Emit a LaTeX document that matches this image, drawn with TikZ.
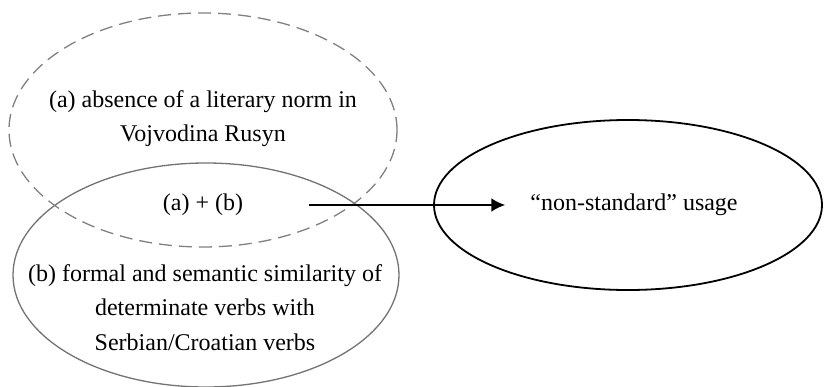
\documentclass[tikz,border=0pt]{standalone}
\usepackage{fontspec}
\setmainfont{Liberation Serif}
\usetikzlibrary{shapes,arrows.meta,positioning}
\tikzset{basic/.style={ellipse,inner sep=0pt}}
\tikzset{setA/.style={basic,draw=black!50,dash pattern=on 6.5pt off 3.5pt,line width=0.65pt,minimum width=194pt,minimum height=117pt}}
\tikzset{setB/.style={basic,draw=black!55,line width=0.65pt,minimum width=193pt,minimum height=112pt}}
\tikzset{outcome/.style={basic,draw,line width=0.9pt,minimum width=194pt,minimum height=85pt}}
\tikzset{txt/.style={align=center,font=\fontsize{12}{17.3}\selectfont}}
\tikzset{flow/.style={draw,line width=1.3pt,-{Latex[length=7pt,width=7pt]}}}

\begin{document}
\begin{tikzpicture}[x=0.5pt,y=-0.5pt]
    \useasboundingbox (0,0) rectangle (824,386);
    \node[setB] (similar) at (206,275) {};
    \node[setA] (absence) at (203,130) {};
    \node[outcome] (nonstd) at (628,205) {};

     \node[txt] (ta) at (203,118.5) {(a) absence of a literary norm in\\ Vojvodina Rusyn};
     \node[txt] (tb) at (205,307.5) {(b) formal and semantic similarity of\\ determinate verbs with\\ Serbian/Croatian verbs};
     \node[txt] (ab) at (203,205) {(a) + (b)};
     \node[txt] (usage) at (634,205) {``non-standard'' usage};

        \path[flow,shorten <=29.5pt,shorten >=9pt] (ab) -- (usage);
  \end{tikzpicture}
\end{document}
